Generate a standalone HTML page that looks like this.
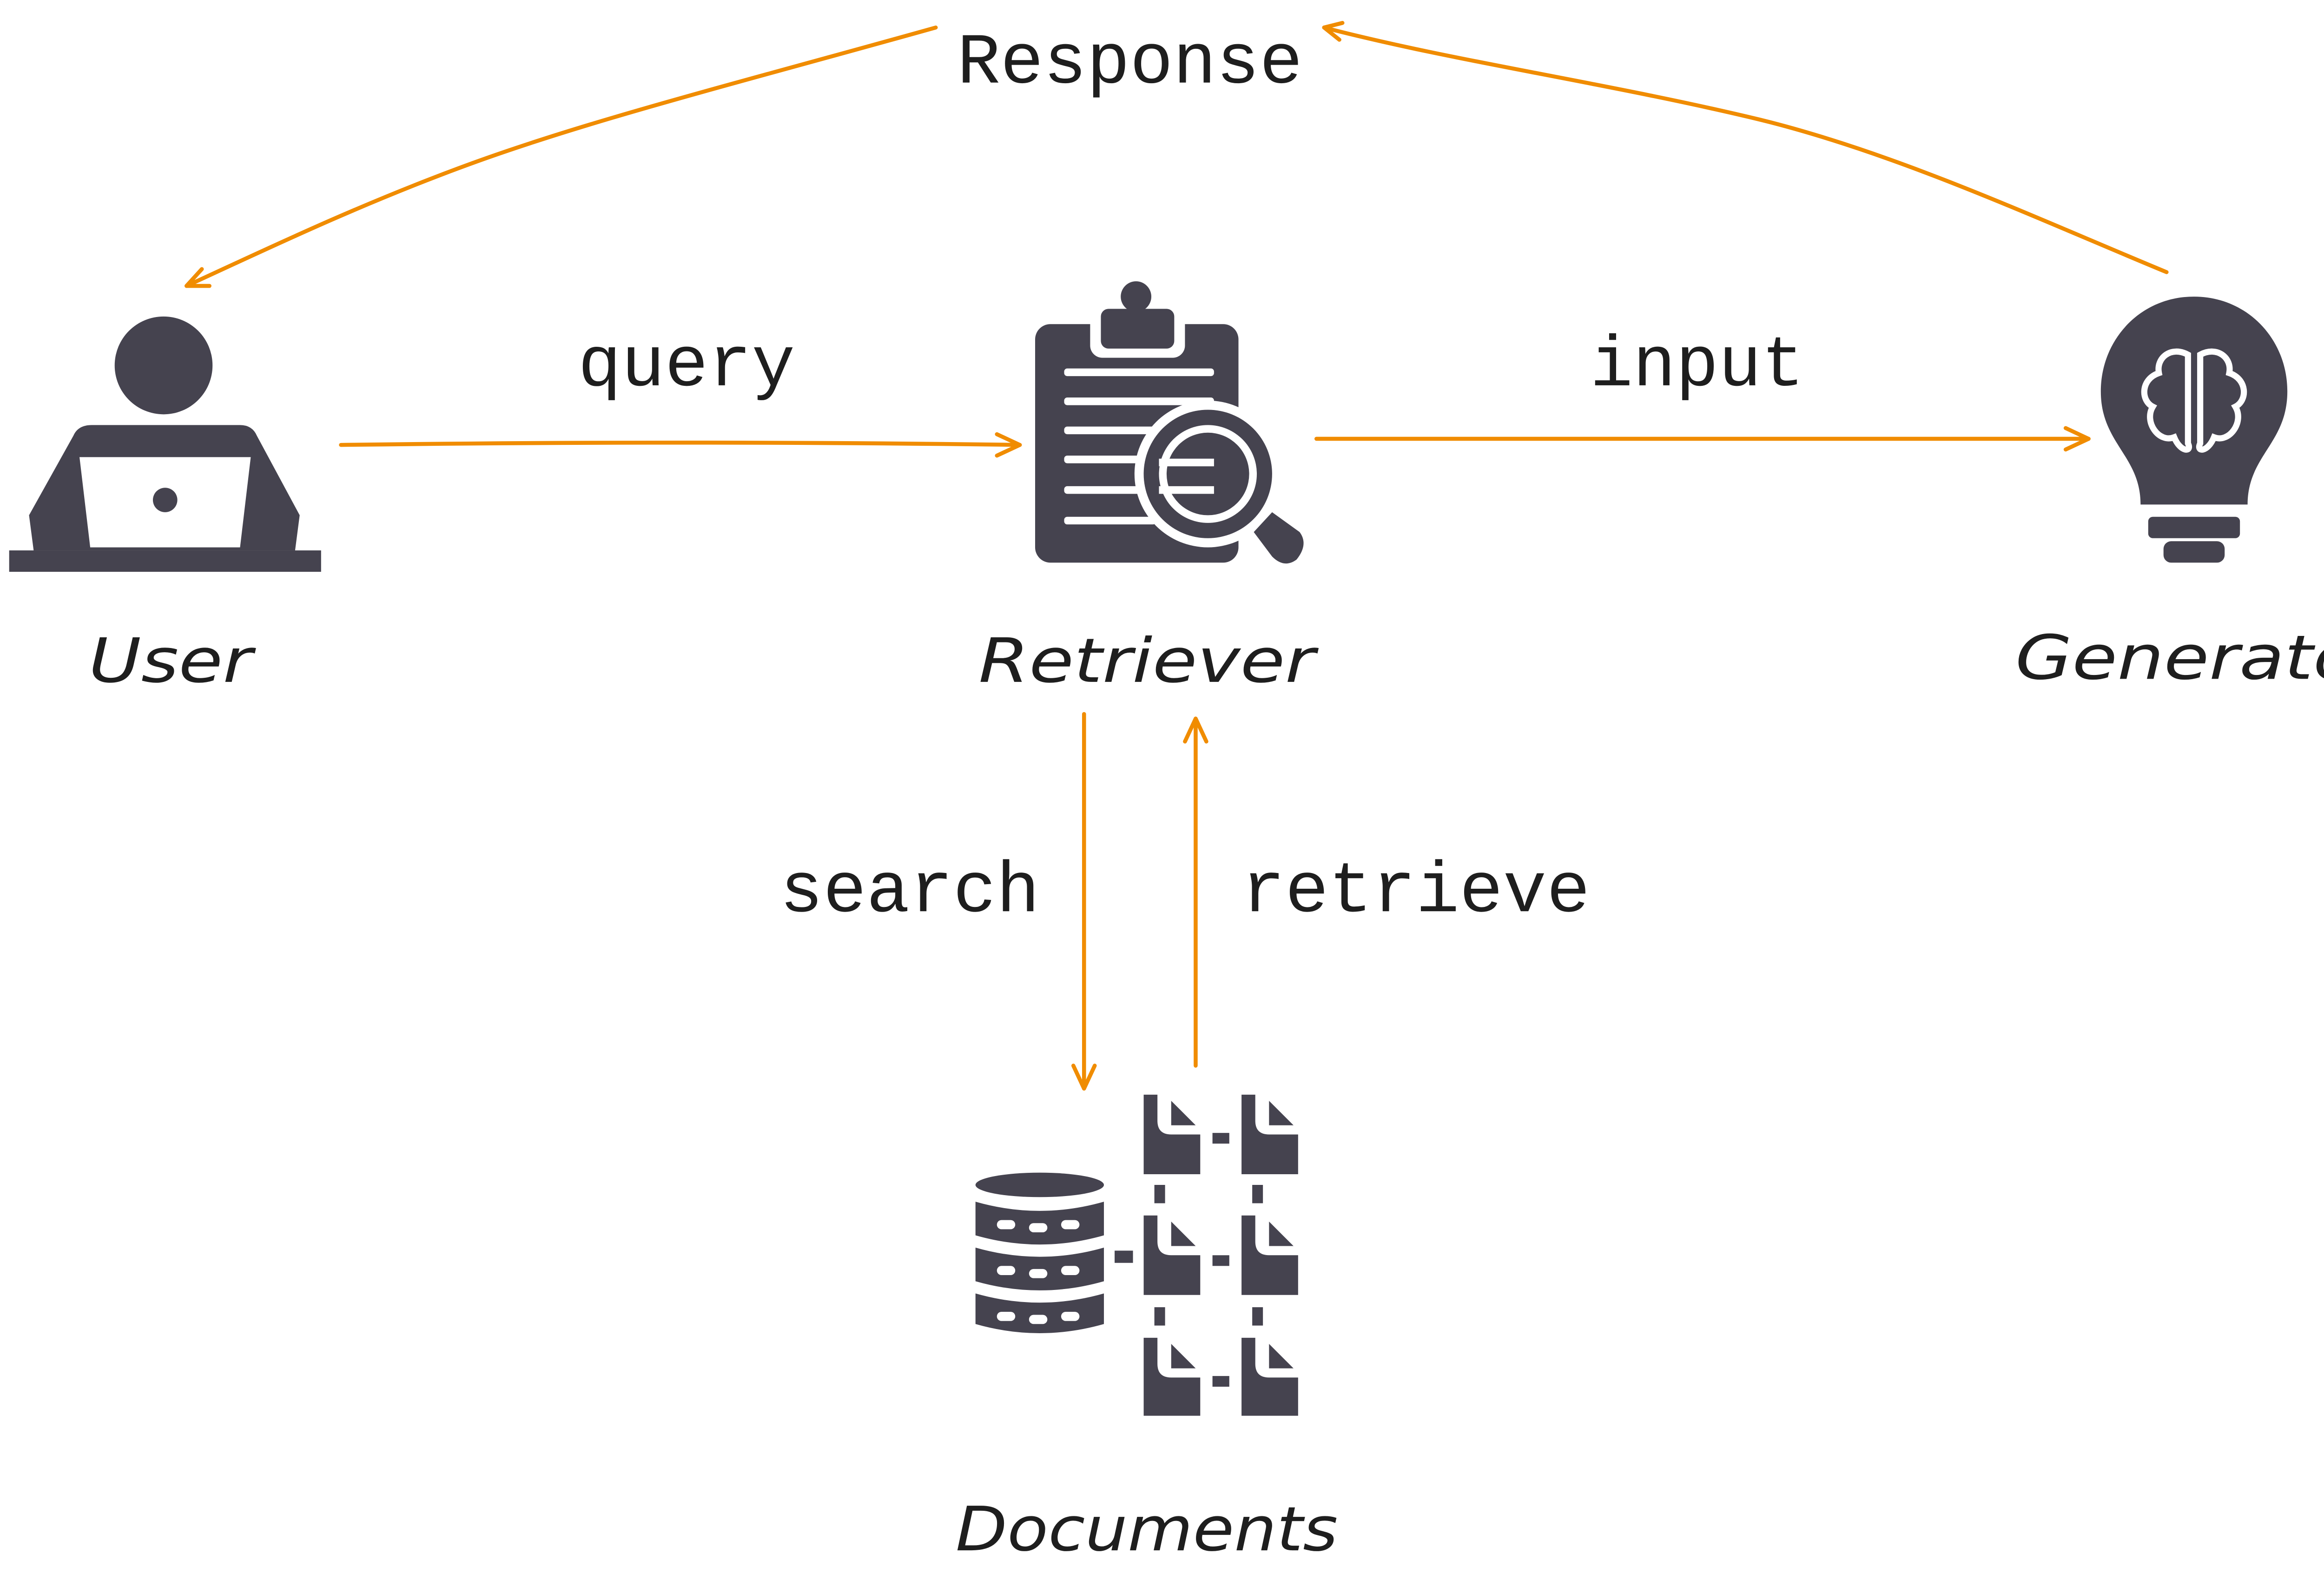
<!DOCTYPE html>
<html><head><meta charset="utf-8"><style>
html,body{margin:0;padding:0;background:#fff;overflow:hidden;}
svg{display:block;}
.m{font-family:"Liberation Mono","DejaVu Sans Mono",monospace;fill:#1e1e1e;font-size:47px;}
.h{font-family:"DejaVu Sans","Liberation Sans",sans-serif;fill:#1e1e1e;font-size:40px;font-style:italic;}
.a{fill:none;stroke:#f08c00;stroke-width:2.6;stroke-linecap:round;stroke-linejoin:round;}
.d{fill:#45434f;}
.w{fill:#fff;}
</style></head><body>
<svg width="5158" height="3414" viewBox="0 0 1568 1038" preserveAspectRatio="none" xmlns="http://www.w3.org/2000/svg">
<!-- Response -->
<text class="m" x="626" y="54" textLength="226" lengthAdjust="spacingAndGlyphs">Response</text>
<path class="a" d="M612 18 C480 55 380 80 300 110 C230 136 170 165 122 187"/>
<path class="a" d="M122 187 L132 176 M122 187 L137 187"/>
<path class="a" d="M1417 178 C1330 142 1240 100 1150 78 C1050 54 950 40 866 18"/>
<path class="a" d="M866 18 L878 15 M866 18 L876 26"/>
<!-- query -->
<text class="m" x="378" y="252" textLength="142" lengthAdjust="spacingAndGlyphs">query</text>
<path class="a" d="M223 291 C380 289 520 289 667 291"/>
<path class="a" d="M667 291 L652 284 M667 291 L652 298"/>
<!-- input -->
<text class="m" x="1040" y="252" textLength="140" lengthAdjust="spacingAndGlyphs">input</text>
<path class="a" d="M861 287 L1366 287"/>
<path class="a" d="M1366 287 L1351 280 M1366 287 L1351 294"/>
<!-- search / retrieve -->
<text class="m" x="510" y="596" textLength="170" lengthAdjust="spacingAndGlyphs">search</text>
<path class="a" d="M709 467 L709 712"/>
<path class="a" d="M709 712 L702 697 M709 712 L716 697"/>
<text class="m" x="812" y="596" textLength="228" lengthAdjust="spacingAndGlyphs">retrieve</text>
<path class="a" d="M782 697 L782 470"/>
<path class="a" d="M782 470 L775 485 M782 470 L789 485"/>

<!-- User icon -->
<circle class="d" cx="107" cy="239" r="32"/>
<path class="d" d="M60 278 L157 278 Q165 278 168 285 L196 337 L193 360 L22 360 L19 337 L48 285 Q51 278 60 278Z"/>
<path class="w" d="M52 299 L164 299 L157 358 L59 358Z"/>
<circle class="d" cx="108" cy="327" r="8"/>
<rect class="d" x="6" y="360" width="204" height="14"/>
<text class="h" x="58" y="446" textLength="107" lengthAdjust="spacingAndGlyphs">User</text>

<!-- Retriever icon -->
<rect class="d" x="677" y="212" width="133" height="156" rx="10"/>
<rect class="w" x="713" y="200" width="62" height="34" rx="8"/>
<rect class="d" x="720" y="202" width="48" height="26" rx="5"/>
<circle class="d" cx="743" cy="194" r="10"/>
<g fill="#fff">
<rect x="696" y="241" width="98" height="5" rx="2"/>
<rect x="696" y="260" width="98" height="5" rx="2"/>
<rect x="696" y="279" width="60" height="5" rx="2"/>
<rect x="696" y="298" width="50" height="5" rx="2"/>
<rect x="696" y="318" width="50" height="5" rx="2"/>
<rect x="696" y="338" width="60" height="5" rx="2"/>
</g>
<circle cx="790" cy="310" r="48" fill="#fff"/>
<circle cx="790" cy="310" r="42" class="d"/>
<circle cx="790" cy="310" r="32" fill="#fff"/>
<circle cx="790" cy="310" r="27" class="d"/>
<rect x="758" y="300" width="36" height="5" fill="#fff"/>
<rect x="758" y="318" width="36" height="5" fill="#fff"/>
<path class="d" d="M820 348 L832 335 L850 348 Q856 356 848 366 Q840 372 832 364Z"/>
<text class="h" x="640" y="446" textLength="220" lengthAdjust="spacingAndGlyphs">Retriever</text>

<!-- Generator bulb -->
<path class="d" d="M1435 194 C1470 194 1496 222 1496 256 C1496 290 1470 298 1470 330 L1400 330 C1400 298 1374 290 1374 256 C1374 222 1400 194 1435 194Z"/>
<rect class="d" x="1405" y="338" width="60" height="14" rx="3"/>
<rect class="d" x="1415" y="354" width="40" height="14" rx="5"/>
<g fill="none" stroke="#fff" stroke-width="4" stroke-linecap="round">
<path d="M1431 232 C1420 226 1410 234 1412 244 C1400 248 1400 262 1408 266 C1402 276 1412 290 1422 286 C1426 296 1434 296 1431 290Z"/>
<path d="M1439 232 C1450 226 1460 234 1458 244 C1470 248 1470 262 1462 266 C1468 276 1458 290 1448 286 C1444 296 1436 296 1439 290Z"/>
</g>
<text class="h" x="1318" y="444" textLength="244" lengthAdjust="spacingAndGlyphs">Generator</text>

<!-- Documents -->
<g class="d">
<ellipse cx="680" cy="775" rx="42" ry="8"/>
<path d="M638 786 Q680 798 722 786 L722 808 Q680 820 638 808Z"/>
<path d="M638 816 Q680 828 722 816 L722 838 Q680 850 638 838Z"/>
<path d="M638 846 Q680 858 722 846 L722 866 Q680 878 638 866Z"/>
</g>
<g fill="#fff">
<rect x="652" y="798" width="12" height="6" rx="3"/><rect x="673" y="800" width="12" height="6" rx="3"/><rect x="694" y="798" width="12" height="6" rx="3"/>
<rect x="652" y="828" width="12" height="6" rx="3"/><rect x="673" y="830" width="12" height="6" rx="3"/><rect x="694" y="828" width="12" height="6" rx="3"/>
<rect x="652" y="858" width="12" height="6" rx="3"/><rect x="673" y="860" width="12" height="6" rx="3"/><rect x="694" y="858" width="12" height="6" rx="3"/>
</g>
<g class="d">
<rect x="729" y="818" width="12" height="8"/>
<path d="M748 716 L757 716 L757 733 Q757 742 766 742 L785 742 L785 768 L748 768Z"/>
<path d="M766 720 L782 736 L766 736Z"/>
<path d="M812 716 L821 716 L821 733 Q821 742 830 742 L849 742 L849 768 L812 768Z"/>
<path d="M830 720 L846 736 L830 736Z"/>
<path d="M748 795 L757 795 L757 812 Q757 821 766 821 L785 821 L785 847 L748 847Z"/>
<path d="M766 799 L782 815 L766 815Z"/>
<path d="M812 795 L821 795 L821 812 Q821 821 830 821 L849 821 L849 847 L812 847Z"/>
<path d="M830 799 L846 815 L830 815Z"/>
<path d="M748 875 L757 875 L757 892 Q757 901 766 901 L785 901 L785 926 L748 926Z"/>
<path d="M766 879 L782 895 L766 895Z"/>
<path d="M812 875 L821 875 L821 892 Q821 901 830 901 L849 901 L849 926 L812 926Z"/>
<path d="M830 879 L846 895 L830 895Z"/>
<rect x="793" y="741" width="11" height="7"/>
<rect x="793" y="821" width="11" height="7"/>
<rect x="793" y="900" width="11" height="7"/>
<rect x="755" y="775" width="7" height="12"/>
<rect x="819" y="775" width="7" height="12"/>
<rect x="755" y="855" width="7" height="12"/>
<rect x="819" y="855" width="7" height="12"/>
</g>
<text class="h" x="625" y="1014" textLength="250" lengthAdjust="spacingAndGlyphs">Documents</text>
</svg>
</body></html>
